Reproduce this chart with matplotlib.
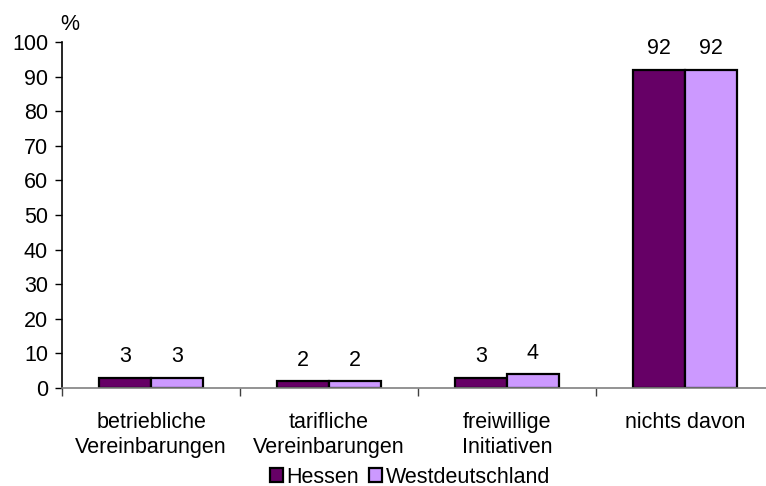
import matplotlib
matplotlib.use("Agg")
import matplotlib.pyplot as plt
import numpy as np
from matplotlib.patches import Patch

plt.rcParams['font.family'] = ['Liberation Sans', 'DejaVu Sans']

categories = ["betriebliche\nVereinbarungen", "tarifliche\nVereinbarungen",
              "freiwillige\nInitiativen", "nichts davon"]
hessen = [3, 2, 3, 92]
westdeutschland = [3, 2, 4, 92]
series_names = ["Hessen", "Westdeutschland"]
colors = ["#660066", "#CC99FF"]
yticks = list(range(0, 101, 10))

fig = plt.figure(figsize=(7.66, 4.86), dpi=100)
ax = fig.add_axes([62 / 766, 98 / 486, 712 / 766, 346 / 486])

x = np.arange(len(categories))
w = 0.29
fs = 15.5
for vals, off, col in ((hessen, -w / 2, colors[0]), (westdeutschland, w / 2, colors[1])):
    bars = ax.bar(x + off, vals, width=w, color=col, edgecolor="black", linewidth=1.6)
    for b, v in zip(bars, vals):
        ax.annotate(str(v), (b.get_x() + b.get_width() / 2, v), xytext=(0, 7.5),
                    textcoords="offset points", ha="center", va="bottom", fontsize=fs)

ax.set_xlim(-0.5, len(categories) - 0.5)
ax.set_ylim(0, 100)
ax.set_yticks(yticks)
ax.tick_params(axis="y", labelsize=fs, length=5, width=1, direction="out", pad=5)
ax.set_xticks(x)
ax.set_xticklabels(categories, fontsize=fs, linespacing=1.25)
ax.tick_params(axis="x", length=0, pad=17.5)
ax.set_xticks(np.arange(-0.5, len(categories), 1), minor=True)
ax.tick_params(axis="x", which="minor", length=6, width=1, color="#404040")

for s in ("top", "right"):
    ax.spines[s].set_visible(False)
ax.spines["left"].set_linewidth(1.2)
ax.spines["bottom"].set_color("#808080")
ax.spines["bottom"].set_linewidth(1.2)

fig.text(70 / 766, 1 - 25 / 486, "%", fontsize=fs, ha="center", va="center")

handles = [Patch(facecolor=c, edgecolor="black", linewidth=1.6) for c in colors]
fig.legend(handles, series_names, loc="center", bbox_to_anchor=(410 / 766, 1 - 477 / 486),
           ncol=2, frameon=False, fontsize=fs, handlelength=0.6, handleheight=0.6,
           handletextpad=0.18, columnspacing=0.45, borderpad=0)

fig.savefig("out.png", dpi=100)
